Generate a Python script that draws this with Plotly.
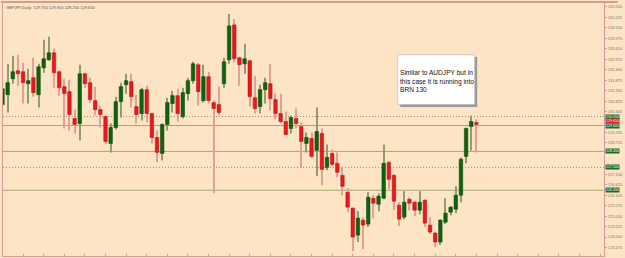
import plotly.graph_objects as go

symbol = "GBPJPY,Daily"

opens = [130.65, 131.15, 131.95, 132.35, 132.30, 131.70, 132.00, 131.15, 132.50, 132.90,
         133.25, 132.30, 131.55, 131.30, 129.95, 129.70, 132.20, 131.75, 130.85, 130.40,
         130.05, 128.70, 129.50, 130.80, 131.65, 131.80, 130.55, 130.20, 131.40, 130.20,
         129.00, 128.20, 129.65, 130.70, 131.10, 130.05, 131.20, 131.85, 132.65, 130.85,
         132.05, 130.75, 130.65, 131.70, 132.90, 134.65, 133.00, 132.70, 132.85, 131.00,
         130.55, 131.40, 131.70, 130.90, 130.20, 129.80, 129.45, 129.95, 129.55, 128.70,
         128.95, 128.35, 129.20, 127.50, 128.20, 127.70, 127.10, 126.25, 125.45, 124.10,
         124.85, 124.65, 125.95, 125.65, 125.95, 127.75, 127.10, 125.60, 125.00, 125.90,
         125.75, 125.35, 125.85, 124.60, 124.20, 123.75, 124.75, 125.25, 125.40, 126.10,
         128.05, 129.55, 129.75]
highs = [132.35, 132.70, 133.10, 133.15, 132.75, 132.45, 133.00, 132.70, 133.90, 134.05,
         133.45, 132.35, 131.95, 131.90, 130.40, 132.65, 132.25, 132.00, 131.55, 130.60,
         130.10, 129.70, 131.05, 131.75, 132.20, 132.20, 131.15, 131.50, 131.60, 130.25,
         129.35, 129.70, 131.00, 131.35, 131.45, 131.50, 132.00, 132.80, 132.75, 132.65,
         132.30, 130.85, 131.55, 133.00, 135.20, 134.95, 133.05, 133.70, 132.90, 132.10,
         131.65, 132.00, 132.70, 131.20, 131.20, 130.30, 130.10, 130.45, 129.75, 129.25,
         129.25, 130.50, 129.45, 128.65, 128.40, 128.25, 127.50, 126.45, 125.50, 125.30,
         125.00, 126.25, 126.10, 126.20, 128.65, 127.80, 127.15, 125.75, 126.30, 126.00,
         125.80, 126.30, 125.90, 125.00, 124.25, 124.90, 125.95, 125.55, 126.55, 128.00,
         129.50, 130.10, 129.90]
lows = [130.50, 130.25, 131.70, 131.60, 130.70, 130.70, 131.05, 130.50, 132.25, 132.85,
        131.50, 131.10, 129.45, 129.35, 129.20, 128.85, 131.50, 130.75, 130.10, 129.50,
        128.70, 128.25, 129.40, 130.00, 131.20, 130.50, 129.70, 129.85, 129.75, 128.70,
        127.75, 127.85, 129.35, 130.25, 129.80, 129.95, 130.85, 131.70, 130.60, 130.75,
        130.70, 126.20, 130.10, 131.50, 132.70, 132.75, 131.60, 132.20, 130.55, 130.20,
        130.20, 130.70, 130.35, 129.90, 129.70, 129.10, 129.20, 129.45, 127.45, 128.25,
        127.95, 127.05, 126.60, 127.35, 127.55, 127.00, 126.10, 125.25, 123.30, 123.75,
        123.40, 124.50, 124.95, 125.30, 125.90, 126.40, 125.35, 124.55, 124.90, 125.35,
        125.05, 125.15, 124.50, 124.15, 123.50, 123.60, 124.65, 125.10, 125.20, 125.75,
        127.70, 128.35, 128.25]
closes = [131.45, 131.75, 132.30, 132.20, 131.75, 131.85, 131.25, 132.55, 132.95, 133.25,
          132.25, 131.50, 131.20, 130.15, 129.65, 132.20, 131.70, 130.90, 130.40, 130.15,
          128.80, 129.50, 130.80, 131.55, 131.85, 131.05, 130.15, 131.40, 130.20, 129.00,
          128.25, 129.65, 130.75, 131.10, 130.20, 131.25, 131.85, 132.70, 131.30, 132.05,
          130.85, 130.45, 130.25, 132.80, 134.60, 132.95, 132.65, 132.95, 131.05, 130.45,
          131.40, 131.75, 130.95, 130.20, 129.80, 129.15, 130.00, 129.70, 128.80, 129.00,
          128.05, 129.30, 127.40, 128.00, 127.65, 127.25, 126.55, 125.50, 124.00, 124.95,
          124.60, 126.00, 125.70, 126.05, 127.70, 126.90, 125.80, 124.90, 125.75, 125.70,
          125.35, 125.75, 124.70, 124.25, 123.75, 124.85, 125.20, 125.50, 126.10, 127.90,
          129.45, 129.80, 129.65]

solid_levels = [129.60, 128.30, 126.35]
dotted_levels = [130.05, 127.50]
note_lines = ["Similar to AUDJPY but in", "this case it is running into", "BRN 130"]

BG = "#FCE4C4"
BORDER = "#D49C94"
RED, RED_EDGE, RED_WICK = "#E8181C", "#B01010", "#E2A098"
GREEN, GREEN_EDGE, GREEN_WICK = "#0E640E", "#053A05", "#8E9E6E"
LEVEL_COL = "#A8A870"
DOT_COL = "#9A8A78"

idx = list(range(len(opens)))
up = [c >= o for o, c in zip(opens, closes)]

fig = go.Figure()
for is_up, wcol in [(True, GREEN_WICK), (False, RED_WICK)]:
    sel = [i for i in idx if up[i] == is_up]
    fig.add_trace(go.Bar(
        x=sel, base=[lows[i] for i in sel], y=[highs[i] - lows[i] for i in sel],
        width=0.2, marker=dict(color=wcol, line=dict(width=0)), hoverinfo="skip"))
for is_up, fill, edge in [(True, GREEN, GREEN_EDGE), (False, RED, RED_EDGE)]:
    sel = [i for i in idx if up[i] == is_up]
    fig.add_trace(go.Bar(
        x=sel, base=[min(opens[i], closes[i]) for i in sel],
        y=[max(abs(closes[i] - opens[i]), 0.06) for i in sel],
        width=0.68, marker=dict(color=fill, line=dict(color=edge, width=0.5)),
        hoverinfo="skip"))

shapes = []
for v in solid_levels:
    shapes.append(dict(type="line", xref="paper", x0=0, x1=1, yref="y", y0=v, y1=v,
                       line=dict(color=LEVEL_COL, width=1), layer="below"))
for v in dotted_levels:
    shapes.append(dict(type="line", xref="paper", x0=0, x1=1, yref="y", y0=v, y1=v,
                       line=dict(color=DOT_COL, width=1, dash="1px,2px"), layer="below"))


def px_x(p):
    return (p - 2) / 609.0


def px_y(p):
    return (256 - p) / 254.0


shapes.append(dict(type="rect", xref="paper", yref="paper",
                   x0=px_x(404.5), x1=px_x(482.5), y0=px_y(106.5), y1=px_y(56),
                   fillcolor="#9A9A9A", line=dict(width=0)))
shapes.append(dict(type="rect", xref="paper", yref="paper",
                   x0=px_x(402), x1=px_x(480), y0=px_y(104), y1=px_y(54),
                   fillcolor="#FFFFFF", line=dict(color="#B0B0B0", width=0.6)))
shapes.append(dict(type="line", xref="paper", yref="paper", x0=px_x(0), x1=px_x(625),
                   y0=px_y(1), y1=px_y(1), line=dict(color=BORDER, width=2)))

annotations = [
    dict(xref="paper", yref="paper", x=px_x(3), y=px_y(2.5), xanchor="left", yanchor="top",
         showarrow=False,
         text=f"{symbol}  {opens[-1]:.3f} {highs[-1]:.3f} {lows[-1]:.3f} {closes[-1]:.3f}",
         font=dict(size=4, color="#555555", family="Liberation Sans")),
    dict(xref="paper", yref="paper", x=px_x(402), y=px_y(80), xanchor="left", yanchor="middle",
         align="left", showarrow=False, text="<br>".join(note_lines),
         font=dict(size=6.6, color="#111111", family="Liberation Sans")),
]
box_levels = solid_levels + dotted_levels
for v in box_levels:
    annotations.append(dict(xref="paper", yref="y", x=1.0, y=v, xanchor="left", yanchor="middle",
                            showarrow=False, text=f"{v:.3f}", bgcolor="#1E6B1E",
                            borderpad=0, xshift=1,
                            font=dict(size=3.6, color="#FFFFFF", family="Liberation Sans")))
annotations.append(dict(xref="paper", yref="y", x=1.0, y=closes[-1], xanchor="left",
                        yanchor="middle", showarrow=False, text=f"{closes[-1]:.3f}",
                        bgcolor="#D02020", borderpad=0, xshift=1, yshift=3.5,
                        font=dict(size=3.6, color="#FFFFFF", family="Liberation Sans")))

tick_step = 0.525
tick_base = 130.30
tickvals = []
for k in range(-14, 12):
    t = round(tick_base + k * tick_step, 3)
    if 123.1 <= t <= 135.7 and all(abs(t - b) > 0.2 for b in box_levels + [closes[-1] + 0.17]):
        tickvals.append(t)

fig.update_layout(
    width=625, height=258, margin=dict(l=2, r=14, t=2, b=2),
    paper_bgcolor=BG, plot_bgcolor=BG, barmode="overlay", showlegend=False,
    shapes=shapes, annotations=annotations,
    xaxis=dict(range=[0.1, 116.77], showgrid=False, zeroline=False, showline=True,
               mirror=True, linecolor=BORDER, linewidth=1, ticks="inside", ticklen=2,
               tickcolor=BORDER, tick0=0, dtick=4, showticklabels=False, fixedrange=True),
    yaxis=dict(range=[123.05, 135.75], side="right", showgrid=False, zeroline=False,
               showline=True, mirror=True, linecolor=BORDER, linewidth=1,
               ticks="outside", ticklen=2, tickcolor=BORDER, tickmode="array",
               tickvals=tickvals, ticktext=[f"{t:.3f}" for t in tickvals],
               tickfont=dict(size=4, color="#777777", family="Liberation Sans"),
               fixedrange=True),
)

fig.write_html("out.html")
